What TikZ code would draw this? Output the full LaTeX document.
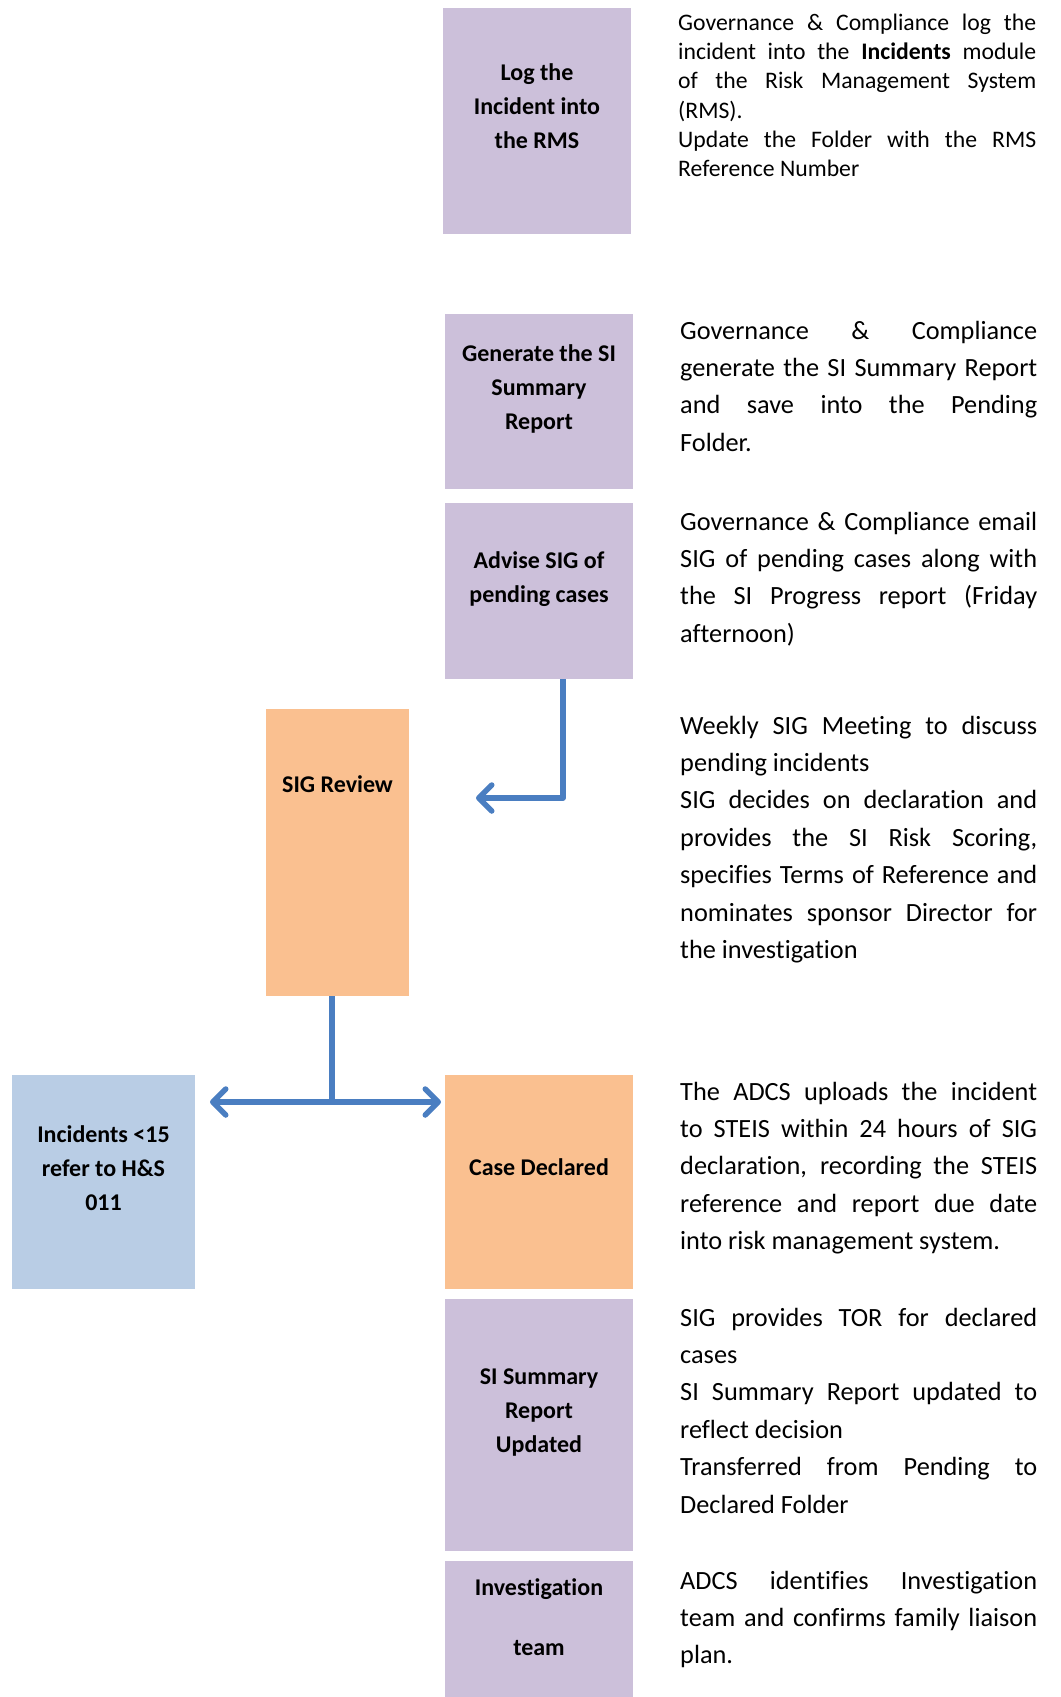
\documentclass[tikz,border=0pt]{standalone}
\usepackage{fontspec}
\setmainfont[Ligatures={NoCommon}, Contextuals={NoAlternate}]{Carlito}
\usepackage{tikz}
\usetikzlibrary{arrows.meta, positioning, calc}

\definecolor{lilac}{RGB}{204,192,218}
\definecolor{peach}{RGB}{250,192,144}
\definecolor{skyblue}{RGB}{185,205,229}
\definecolor{flowblue}{RGB}{74,126,193}

\tikzset{
  stepbox/.style={rectangle, fill=#1, draw=none, minimum width=188pt, inner sep=0pt},
  boxlabel/.style={font=\fontsize{24}{34}\selectfont\bfseries, align=center, inner sep=0pt},
  desc/.style={font=\fontsize{26.3}{37.4}\selectfont, text width=357pt, align=justify, anchor=base west, inner sep=0pt},
  barb/.tip={Straight Barb[length=13pt, width=26pt, line join=round, line cap=round]},
  flow/.style={draw=flowblue, line width=5.5pt, line join=round, -barb}
}

\begin{document}
\begin{tikzpicture}[x=1pt, y=-1pt]
\useasboundingbox (0,0) rectangle (1060,1697);

% Boxes down the middle column
\node[stepbox=lilac, minimum height=226pt] (log) at (537,121) {};
\node[stepbox=lilac, minimum height=175pt] (gen) at (539,401.5) {};
\node[stepbox=lilac, minimum height=176pt] (adv) at (539,591) {};
\node[stepbox=peach, minimum width=143pt, minimum height=287pt] (sigrev) at (337.5,852.5) {};
\node[stepbox=skyblue, minimum width=183pt, minimum height=214pt] (inc) at (103.5,1182) {};
\node[stepbox=peach, minimum height=214pt] (case) at (539,1182) {};
\node[stepbox=lilac, minimum height=252pt] (upd) at (539,1425) {};
\node[stepbox=lilac, minimum height=140pt] (inv) at (539,1631) {};

% Box labels
\node[boxlabel] (loglbl) at ([yshift=14.5pt]log.center) {Log the\\Incident into\\the RMS};
\node[boxlabel] (genlbl) at ([yshift=13pt]gen.center) {Generate the SI\\Summary\\Report};
\node[boxlabel] (advlbl) at ([yshift=12pt]adv.center) {Advise SIG of\\pending cases};
\node[boxlabel] (sigrevlbl) at ([yshift=68.5pt]sigrev.center) {SIG Review};
\node[boxlabel] (inclbl) at ([yshift=14pt]inc.center) {Incidents <15\\refer to H\&S\\011};
\node[boxlabel] (caselbl) at ([yshift=15pt]case.center) {Case Declared};
\node[boxlabel] (updlbl) at ([yshift=13pt]upd.center) {SI Summary\\Report\\Updated};
\node[boxlabel] (invlbl) at (539,1617) {Investigation\\[26pt]team};

% Descriptions on the right
\node[desc, font=\fontsize{23.7}{29.2}\selectfont, text width=358pt] (logtxt) at (678,30.5)
  {Governance \& Compliance log the\linebreak incident into the \textbf{Incidents} module\linebreak
   of the Risk Management System\linebreak (RMS).\\Update the Folder with the RMS\linebreak Reference Number};
\node[desc] (gentxt) at (680,339)
  {Governance \& Compliance\linebreak generate the SI Summary Report\linebreak
   and save into the Pending\linebreak Folder.};
\node[desc] (advtxt) at (680,530)
  {Governance \& Compliance email\linebreak SIG of pending cases along with\linebreak
   the SI Progress report (Friday\linebreak afternoon)};
\node[desc] (sigrevtxt) at (680,734)
  {Weekly SIG Meeting to discuss\linebreak pending incidents\\SIG decides on declaration and\linebreak
   provides the SI Risk Scoring,\linebreak specifies Terms of Reference and\linebreak
   nominates sponsor Director for\linebreak the investigation};
\node[desc] (casetxt) at (680,1100)
  {The ADCS uploads the incident\linebreak to STEIS within 24 hours of SIG\linebreak
   declaration, recording the STEIS\linebreak reference and report due date\linebreak
   into risk management system.};
\node[desc] (updtxt) at (680,1326)
  {SIG provides TOR for declared\linebreak cases\\SI Summary Report updated to\linebreak
   reflect decision\\Transferred from Pending to\linebreak Declared Folder};
\node[desc] (invtxt) at (680,1589)
  {ADCS identifies Investigation\linebreak team and confirms family liaison\linebreak plan.};

% Connectors
\coordinate (advtip) at (476,798);
\coordinate (split) at (332,1102);
\coordinate (inctip) at (210,1102);
\coordinate (casetip) at (441,1102);
\draw[flow] ([xshift=24pt]adv.south) |- (advtip);
\draw[flow, -] (sigrev.south -| split) -- (split);
\draw[flow, barb-barb] (inctip) -- (casetip);
\end{tikzpicture}
\end{document}
